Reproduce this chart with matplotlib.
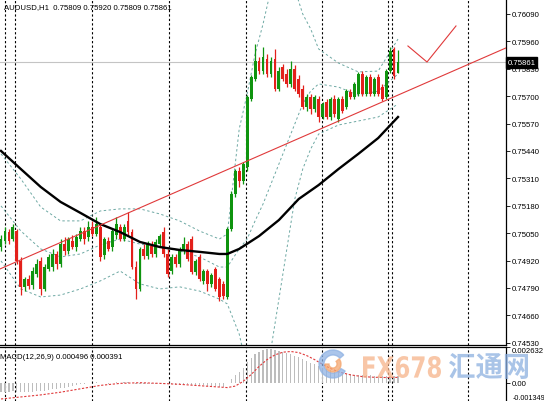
import matplotlib.pyplot as plt
import matplotlib.transforms as mtransforms
from matplotlib.patches import Wedge, PathPatch
from matplotlib.textpath import TextPath
from matplotlib.font_manager import FontProperties

# AUDUSD H1 candles
opens = [0.74984, 0.75013, 0.75055, 0.75022, 0.75060, 0.74918, 0.74795, 0.74832, 0.74804, 0.74856,
         0.74918, 0.74785, 0.74880, 0.74889, 0.74951, 0.74904, 0.74998, 0.74965, 0.75013, 0.74984,
         0.75022, 0.75060, 0.75032, 0.75079, 0.75046, 0.75079, 0.74946, 0.75013, 0.74984, 0.75041,
         0.75079, 0.75022, 0.75108, 0.75055, 0.74889, 0.74785, 0.74975, 0.74942, 0.74989, 0.74951,
         0.74998, 0.75055, 0.74951, 0.74870, 0.74937, 0.74904, 0.74965, 0.74998, 0.75022, 0.74866,
         0.74937, 0.74823, 0.74870, 0.74809, 0.74880, 0.74832, 0.74809, 0.74747, 0.75070, 0.75236,
         0.75345, 0.75297, 0.75364, 0.75686, 0.75781, 0.75867, 0.75819, 0.75876, 0.75805, 0.75876,
         0.75734, 0.75838, 0.75805, 0.75758, 0.75829, 0.75781, 0.75734, 0.75649, 0.75696, 0.75639,
         0.75686, 0.75601, 0.75672, 0.75601, 0.75686, 0.75592, 0.75686, 0.75649, 0.75720, 0.75696,
         0.75710, 0.75805, 0.75710, 0.75791, 0.75710, 0.75791, 0.75743, 0.75696, 0.75819, 0.75924,
         0.75809]
highs = [0.75041, 0.75079, 0.75070, 0.75093, 0.75070, 0.74937, 0.74842, 0.74851, 0.74889, 0.74927,
         0.74937, 0.74904, 0.74951, 0.74975, 0.74965, 0.75022, 0.75032, 0.75032, 0.75041, 0.75046,
         0.75079, 0.75079, 0.75108, 0.75108, 0.75127, 0.75093, 0.75032, 0.75032, 0.75070, 0.75127,
         0.75093, 0.75093, 0.75150, 0.75070, 0.74918, 0.74984, 0.74998, 0.75013, 0.75013, 0.75022,
         0.75046, 0.75079, 0.74975, 0.74951, 0.74951, 0.74984, 0.75032, 0.75013, 0.75036, 0.74927,
         0.74951, 0.74880, 0.74880, 0.74861, 0.74889, 0.74842, 0.74823, 0.75079, 0.75250, 0.75354,
         0.75364, 0.75388, 0.75705, 0.75800, 0.75947, 0.75886, 0.75933, 0.75900, 0.75886, 0.75924,
         0.75838, 0.75853, 0.75829, 0.75867, 0.75848, 0.75800, 0.75753, 0.75710, 0.75710, 0.75705,
         0.75701, 0.75672, 0.75686, 0.75696, 0.75705, 0.75696, 0.75701, 0.75734, 0.75734, 0.75767,
         0.75815, 0.75819, 0.75800, 0.75805, 0.75791, 0.75805, 0.75758, 0.75829, 0.75933, 0.75933,
         0.75920]
lows = [0.74965, 0.74998, 0.74998, 0.75013, 0.74904, 0.74756, 0.74775, 0.74785, 0.74785, 0.74842,
        0.74756, 0.74775, 0.74870, 0.74870, 0.74880, 0.74889, 0.74946, 0.74951, 0.74975, 0.74965,
        0.75013, 0.74998, 0.75013, 0.75036, 0.75036, 0.74918, 0.74927, 0.74965, 0.74965, 0.75022,
        0.75013, 0.75013, 0.75041, 0.74880, 0.74737, 0.74775, 0.74927, 0.74927, 0.74937, 0.74937,
        0.74984, 0.74937, 0.74842, 0.74856, 0.74889, 0.74889, 0.74951, 0.74918, 0.74856, 0.74851,
        0.74823, 0.74809, 0.74775, 0.74795, 0.74775, 0.74728, 0.74737, 0.74737, 0.75060, 0.75221,
        0.75269, 0.75283, 0.75345, 0.75677, 0.75772, 0.75805, 0.75805, 0.75791, 0.75791, 0.75724,
        0.75724, 0.75772, 0.75743, 0.75743, 0.75724, 0.75696, 0.75639, 0.75630, 0.75615, 0.75625,
        0.75577, 0.75592, 0.75592, 0.75587, 0.75601, 0.75577, 0.75620, 0.75639, 0.75686, 0.75686,
        0.75701, 0.75701, 0.75701, 0.75701, 0.75701, 0.75701, 0.75677, 0.75686, 0.75810, 0.75781,
        0.75809]
closes = [0.75022, 0.75060, 0.75013, 0.75079, 0.74918, 0.74795, 0.74832, 0.74799, 0.74870, 0.74904,
          0.74785, 0.74889, 0.74937, 0.74951, 0.74904, 0.74998, 0.74965, 0.75022, 0.74984, 0.75032,
          0.75060, 0.75022, 0.75079, 0.75046, 0.75093, 0.74937, 0.75022, 0.74975, 0.75060, 0.75093,
          0.75022, 0.75079, 0.75055, 0.74889, 0.74785, 0.74975, 0.74942, 0.74998, 0.74951, 0.75008,
          0.75036, 0.74951, 0.74856, 0.74937, 0.74904, 0.74975, 0.74998, 0.74927, 0.74866, 0.74918,
          0.74832, 0.74870, 0.74809, 0.74851, 0.74785, 0.74747, 0.74752, 0.75070, 0.75236, 0.75345,
          0.75297, 0.75378, 0.75696, 0.75791, 0.75867, 0.75819, 0.75886, 0.75805, 0.75867, 0.75734,
          0.75819, 0.75781, 0.75758, 0.75829, 0.75734, 0.75710, 0.75649, 0.75696, 0.75639, 0.75696,
          0.75601, 0.75663, 0.75601, 0.75686, 0.75615, 0.75686, 0.75630, 0.75724, 0.75696, 0.75758,
          0.75805, 0.75710, 0.75791, 0.75710, 0.75781, 0.75710, 0.75686, 0.75819, 0.75914, 0.75796,
          0.75861]

# moving average (black) sampled at bar indices
ma_idx = [0, 5, 10, 15, 20, 25, 30, 35, 40, 45, 50, 55, 57, 60, 65, 70, 75, 80, 85, 90, 95, 100]
ma_vals = [0.75440, 0.75354, 0.75269, 0.75198, 0.75146, 0.75093, 0.75055, 0.75008, 0.74984, 0.74970,
           0.74961, 0.74951, 0.74951, 0.74975, 0.75036, 0.75112, 0.75212, 0.75278, 0.75354, 0.75426,
           0.75501, 0.75601]

# Bollinger bands sampled at bar indices
bb_idx = [0, 5, 10, 15, 20, 25, 30, 35, 40, 45, 50, 55, 57, 60, 62, 64, 66, 68, 70, 72, 74, 76, 78,
          80, 85, 90, 95, 100]
bb_upper = [0.75426, 0.75307, 0.75174, 0.75108, 0.75108, 0.75155, 0.75165, 0.75165, 0.75141, 0.75108,
            0.75060, 0.75022, 0.75046, 0.75544, 0.75710, 0.75900, 0.76042, 0.76208, 0.76303, 0.76303,
            0.76208, 0.76090, 0.76019, 0.75924, 0.75857, 0.75815, 0.75819, 0.75971]
bb_mid = [0.75179, 0.75060, 0.74975, 0.74937, 0.74951, 0.74994, 0.75022, 0.74998, 0.74984, 0.74965,
          0.74937, 0.74889, 0.74889, 0.74975, 0.75022, 0.75108, 0.75188, 0.75283, 0.75378, 0.75473,
          0.75568, 0.75663, 0.75724, 0.75758, 0.75743, 0.75705, 0.75724, 0.75805]
bb_lower = [0.74918, 0.74785, 0.74747, 0.74756, 0.74785, 0.74823, 0.74870, 0.74809, 0.74785, 0.74795,
            0.74775, 0.74737, 0.74714, 0.74571, 0.74405, 0.74263, 0.74334, 0.74500, 0.74737, 0.74975,
            0.75212, 0.75354, 0.75449, 0.75520, 0.75563, 0.75582, 0.75601, 0.75663]

# hand drawn trendline and check mark
trend_pts = [(0, 0.74882), (100, 0.75705)]
check_x = [102.5, 107.3, 114.6]
check_y = [0.75938, 0.75862, 0.76033]

# period separators (bar positions)
separators = [1.0, 3.5, 22.9, 42.3, 61.7, 80.9, 97.5, 98.5, 117.6]

price_ticks = [0.76090, 0.75960, 0.75830, 0.75700, 0.75570, 0.75440, 0.75310, 0.75180,
               0.75050, 0.74920, 0.74790, 0.74660, 0.74530]
last_price = 0.75861

# MACD(12,26,9)
macd_hist = [-0.00070, -0.00068, -0.00066, -0.00064, -0.00066, -0.00070, -0.00072, -0.00070, -0.00066, -0.00062,
             -0.00062, -0.00058, -0.00054, -0.00050, -0.00046, -0.00040, -0.00036, -0.00030, -0.00024, -0.00018,
             -0.00012, -0.00008, -0.00004, -0.00002, 0.00002, -0.00004, -0.00004, -0.00006, -0.00003, 0.00002,
             0.00000, 0.00002, 0.00004, -0.00004, -0.00012, -0.00010, -0.00010, -0.00008, -0.00008, -0.00006,
             -0.00004, -0.00006, -0.00012, -0.00012, -0.00014, -0.00012, -0.00010, -0.00012, -0.00016, -0.00016,
             -0.00020, -0.00020, -0.00024, -0.00024, -0.00028, -0.00032, -0.00034, 0.00000, 0.00030, 0.00060,
             0.00080, 0.00105, 0.00150, 0.00185, 0.00215, 0.00230, 0.00240, 0.00245, 0.00245, 0.00240,
             0.00235, 0.00228, 0.00220, 0.00210, 0.00200, 0.00188, 0.00175, 0.00162, 0.00148, 0.00135,
             0.00122, 0.00110, 0.00100, 0.00090, 0.00082, 0.00075, 0.00070, 0.00066, 0.00062, 0.00060,
             0.00058, 0.00056, 0.00055, 0.00054, 0.00052, 0.00050, 0.00048, 0.00046, 0.00047, 0.00050,
             0.00049]
sig_idx = [0, 5, 10, 15, 20, 25, 30, 35, 40, 45, 50, 55, 57, 59, 61, 63, 65, 67, 69, 71, 73, 75, 77, 79,
           81, 83, 85, 88, 91, 94, 97, 100]
sig_vals = [-0.00120, -0.00105, -0.00090, -0.00070, -0.00045, -0.00020, -0.00005, 0.00000, -0.00005,
            -0.00012, -0.00022, -0.00032, -0.00036, -0.00025, 0.00010, 0.00060, 0.00120, 0.00170,
            0.00205, 0.00225, 0.00230, 0.00222, 0.00200, 0.00170, 0.00135, 0.00105, 0.00080, 0.00058,
            0.00045, 0.00040, 0.00038, 0.000391]
macd_ticks = [0.002632, 0.0, -0.001349]
macd_labels = ['0.002632', '0.00', '-0.001349']

plt.rcParams['font.family'] = ['Liberation Sans', 'DejaVu Sans']

W, H = 544, 402
fig = plt.figure(figsize=(W / 100, H / 100), dpi=100)
ax = fig.add_axes([0, 56 / H, 506 / W, 346 / H])
ax2 = fig.add_axes([0, 0, 506 / W, 54 / H])

up_col = '#0f940f'
dn_col = '#e3201b'
n = len(closes)
idx = list(range(n))
cols = [up_col if closes[i] >= opens[i] else dn_col for i in idx]
ax.vlines(idx, lows, highs, colors=cols, lw=0.9, zorder=3)
bodies = [max(abs(closes[i] - opens[i]), 0.000012) for i in idx]
bottoms = [min(opens[i], closes[i]) for i in idx]
ax.bar(idx, bodies, bottom=bottoms, width=0.72, color=cols, lw=0, zorder=3)

band_style = dict(color='#6da8a3', lw=0.7, ls=(0, (2.5, 2.5)), zorder=2)
ax.plot(bb_idx, bb_upper, **band_style)
ax.plot(bb_idx, bb_mid, **band_style)
ax.plot(bb_idx, bb_lower, **band_style)

ax.plot(ma_idx, ma_vals, color='black', lw=1.7, zorder=4)

ax.axline(trend_pts[0], trend_pts[1], color='#e0393a', lw=0.8, zorder=4)
ax.plot(check_x, check_y, color='#e0393a', lw=0.8, zorder=4)

ax.axhline(last_price, color='#c4c4c4', lw=0.8, zorder=1)

for s in separators:
    ax.axvline(s, color='black', lw=0.8, ls=(0, (2, 2)), zorder=1)
    ax2.axvline(s, color='black', lw=0.8, ls=(0, (2, 2)), zorder=1)

ax.set_xlim(-0.252, 127.2)
ax.set_ylim(0.74519, 0.76161)
ax.set_xticks([])
ax.yaxis.tick_right()
ax.set_yticks(price_ticks)
ax.set_yticklabels(['%.5f' % v for v in price_ticks])
ax.tick_params(axis='y', direction='out', length=3, width=0.6, labelsize=5.6, pad=1.5)
for side in ['left', 'top']:
    ax.spines[side].set_visible(False)
for side in ['right', 'bottom']:
    ax.spines[side].set_linewidth(0.9)

tr = mtransforms.blended_transform_factory(ax.transAxes, ax.transData)
ax.text(1.003, last_price, '%.5f' % last_price, transform=tr, ha='left', va='center',
        fontsize=5.6, color='white', zorder=10, clip_on=False,
        bbox=dict(boxstyle='square,pad=0.25', fc='black', ec='black'))

ax.text(0.008, 0.988, 'AUDUSD,H1  0.75809 0.75920 0.75809 0.75861', transform=ax.transAxes,
        ha='left', va='top', fontsize=5.6, color='black')

# MACD panel
ax2.bar(idx, macd_hist, width=0.3, color='#bdbdbd', lw=0, zorder=2)
ax2.plot(sig_idx, sig_vals, color='#e0393a', lw=0.8, ls=(0, (2, 1.5)), zorder=3)
ax2.set_xlim(-0.252, 127.2)
ax2.set_ylim(-0.001349, 0.002632)
ax2.set_xticks([])
ax2.yaxis.tick_right()
ax2.set_yticks(macd_ticks)
ax2.set_yticklabels(macd_labels)
ax2.tick_params(axis='y', direction='out', length=3, width=0.6, labelsize=5.6, pad=1.5)
tl = ax2.get_yticklabels()
tl[0].set_va('top')
tl[2].set_va('bottom')
tl[2].set_fontsize(5.2)
for side in ['left', 'bottom']:
    ax2.spines[side].set_visible(False)
for side in ['right', 'top']:
    ax2.spines[side].set_linewidth(0.9)
ax2.text(0.0, 0.88, 'MACD(12,26,9) 0.000496 0.000391', transform=ax2.transAxes,
         ha='left', va='top', fontsize=5.6, color='black')

# watermark
px = mtransforms.IdentityTransform()
fig.patches.append(Wedge((333, 37), 14, 40, 330, width=5, color='#8fb2e3', alpha=0.75,
                         transform=px, zorder=20))
fig.patches.append(Wedge((333, 37), 8, 180, 40, width=4, color='#f4a66f', alpha=0.75,
                         transform=px, zorder=20))


def stamp(text, fam, box, color):
    tp = TextPath((0, 0), text, size=40, prop=FontProperties(family=fam, weight='bold'))
    ext = tp.get_extents()
    x0, y0, x1, y1 = box
    t = mtransforms.Affine2D().translate(-ext.x0, -ext.y0).scale(
        (x1 - x0) / ext.width, (y1 - y0) / ext.height).translate(x0, y0)
    fig.patches.append(PathPatch(t.transform_path(tp), fc=color, ec='none', alpha=0.75,
                                 transform=px, zorder=20))


stamp('FX678', 'DejaVu Sans', (363, 402 - 379, 441, 402 - 357), '#f6b48a')
stamp('汇通网', 'Noto Sans CJK SC', (449, 402 - 380, 528, 402 - 354), '#8db0e0')

fig.savefig('out.png', dpi=100)
